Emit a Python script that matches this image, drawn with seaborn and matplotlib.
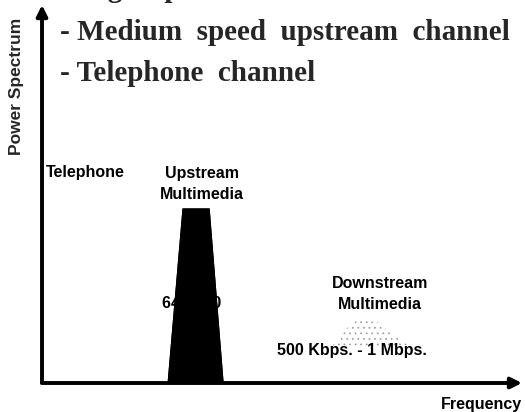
import numpy as np
import matplotlib
matplotlib.use("Agg")
import matplotlib.pyplot as plt
import seaborn as sns

# spectrum sketch values (frequency / power in arbitrary units)
band_freq = [26.3, 29.4, 34.8, 37.7]
band_power = [0, 46, 46, 0]
down_freq = [60, 63, 66, 70, 74, 78]
down_power = [9, 14, 17, 16, 12, 9]

bullets = ["- High  speed  downstream  channel",
           "- Medium  speed  upstream  channel",
           "- Telephone  channel"]
labels = {"tel": "Telephone", "up": "Upstream\nMultimedia", "up_rate": "64 - 640",
          "down": "Downstream\nMultimedia", "down_rate": "500 Kbps. - 1 Mbps."}

sns.set_theme(style="white")
plt.rcParams["font.family"] = ["Liberation Sans", "DejaVu Sans"]
plt.rcParams["hatch.linewidth"] = 0.5

W, H = 525, 412
fig = plt.figure(figsize=(W / 100, H / 100), dpi=100)
ax = fig.add_axes([42 / W, (H - 383) / H, 480 / W, 378 / H])
ax.set_xlim(0, 100)
ax.set_ylim(0, 100)
ax.axis("off")

# upstream band
ax.fill(band_freq, band_power, color="black", zorder=3)
sns.lineplot(x=band_freq, y=band_power, sort=False, color="black", lw=1, ax=ax, zorder=3)
# downstream (faint stipple)
ax.fill(down_freq, down_power, facecolor="none", edgecolor="#9a9a9a", hatch="...", lw=0, zorder=1)

# axes arrows
arrow = dict(arrowstyle="-|>", lw=2.8, color="black", mutation_scale=16, shrinkA=0, shrinkB=0)
ax.annotate("", xy=(0, 1), xytext=(0, 0), xycoords="axes fraction", arrowprops=arrow, annotation_clip=False)
ax.annotate("", xy=(1, 0), xytext=(0, 0), xycoords="axes fraction", arrowprops=arrow, annotation_clip=False)

def px(x, y):
    return x / W, 1 - y / H

sans = dict(fontsize=11.5, color="black", fontweight="bold")
fig.text(*px(46, 172), labels["tel"], ha="left", va="center", **sans)
fig.text(*px(202, 184), labels["up"], ha="center", va="center", linespacing=1.55, **sans)
fig.text(*px(192, 303), labels["up_rate"], ha="center", va="center", zorder=0, **sans)
fig.text(*px(380, 294), labels["down"], ha="center", va="center", linespacing=1.55, **sans)
fig.text(*px(352, 350), labels["down_rate"], ha="center", va="center", **sans)
fig.text(*px(522, 404), "Frequency", ha="right", va="center", **sans)
fig.text(*px(17, 86), "Power Spectrum", rotation=90, ha="center", va="center", fontsize=12.5, fontweight="bold")

serif = dict(family=["Liberation Serif", "DejaVu Serif"], fontsize=21, fontweight="bold", ha="left", va="baseline")
fig.text(*px(60, -3), bullets[0], **serif)
fig.text(*px(60, 40), bullets[1], **serif)
fig.text(*px(60, 81), bullets[2], **serif)

fig.savefig("out.png", dpi=100)
